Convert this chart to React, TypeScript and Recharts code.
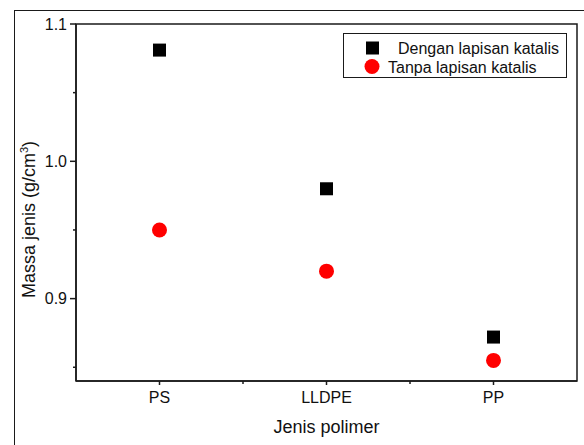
import {
  ScatterChart,
  Scatter,
  XAxis,
  YAxis,
  Legend,
  ReferenceArea,
} from "recharts";

// jenis polimer (sumbu x) dan massa jenis hasil baca dari gambar
const polimer = ["PS", "LLDPE", "PP"];
const denganKatalis = [1.081, 0.98, 0.872];
const tanpaKatalis = [0.95, 0.92, 0.855];
const yTicks = [0.85, 0.9, 0.95, 1.0, 1.05, 1.1];
const yLabels = ["0.9", "1.0", "1.1"];
const xTicks = [1, 1.5, 2, 2.5, 3];

const namaSeri = ["Dengan lapisan katalis", "Tanpa lapisan katalis"];

const dataDengan = polimer.map((p, i) => ({ x: i + 1, y: denganKatalis[i], p }));
const dataTanpa = polimer.map((p, i) => ({ x: i + 1, y: tanpaKatalis[i], p }));

const FONT = "Liberation Sans, Arial, sans-serif";
const INK = "#1a1a1a";

const Kotak = (props: any) => (
  <rect x={props.cx - 6.5} y={props.cy - 6.5} width={13} height={13} fill="#000" />
);
const Bulat = (props: any) => <circle cx={props.cx} cy={props.cy} r={7.5} fill="#ff0000" />;

const YTick = ({ x, y, payload }: any) => {
  const label = yLabels.find((l) => Math.abs(parseFloat(l) - payload.value) < 1e-6);
  return (
    <g>
      <line x1={x} x2={x - (label ? 6 : 3)} y1={y} y2={y} stroke={INK} strokeWidth={1.5} />
      {label && (
        <text x={x - 9} y={y} dy="0.36em" textAnchor="end" fontSize={16} fill="#111" fontFamily={FONT}>
          {label}
        </text>
      )}
    </g>
  );
};

const XTick = ({ x, y, payload }: any) => {
  const isMajor = Number.isInteger(payload.value);
  return (
    <g>
      <line x1={x} x2={x} y1={y} y2={y + (isMajor ? 4 : 3)} stroke={INK} strokeWidth={1.5} />
      {isMajor && (
        <text x={x} y={y + 22} textAnchor="middle" fontSize={16} fill="#111" fontFamily={FONT}>
          {polimer[payload.value - 1]}
        </text>
      )}
    </g>
  );
};

const LegendBox = () => (
  <div
    style={{
      border: `1px solid ${INK}`,
      width: 224,
      height: 45,
      boxSizing: "border-box",
      position: "relative",
    }}
  >
    <svg width={224} height={45} style={{ position: "absolute", left: 0, top: 0 }}>
      <rect x={22} y={7.5} width={13} height={13} fill="#000" />
      <circle cx={28} cy={32.5} r={7.5} fill="#ff0000" />
      <text x={54} y={19.5} fontSize={16} fontFamily={FONT} fill="#111">
        {namaSeri[0]}
      </text>
      <text x={44} y={38.5} fontSize={16} fontFamily={FONT} fill="#111">
        {namaSeri[1]}
      </text>
    </svg>
  </div>
);

export default function App() {
  return (
    <div
      style={{
        position: "fixed",
        left: 0,
        top: 0,
        width: 584,
        height: 445,
        background: "#fff",
        overflow: "hidden",
      }}
    >
      {/* bingkai luar yang terpotong di kanan dan bawah */}
      <div
        style={{
          position: "absolute",
          left: 14,
          top: 10,
          width: 570,
          height: 435,
          boxSizing: "border-box",
          borderLeft: `1.6px solid ${INK}`,
          borderTop: `1.6px solid ${INK}`,
        }}
      />
      <div style={{ position: "absolute", left: 0, top: 0 }}>
        <ScatterChart width={584} height={445} margin={{ top: 24, right: 7, bottom: 0, left: 0 }}>
          <XAxis
            type="number"
            dataKey="x"
            domain={[0.5, 3.5]}
            ticks={xTicks}
            interval={0}
            height={64}
            tickSize={0}
            tickMargin={0}
            tickLine={false}
            axisLine={{ stroke: INK, strokeWidth: 1.5 }}
            tick={<XTick />}
            allowDataOverflow
            label={({ viewBox }: any) => (
              <text
                x={viewBox.x + viewBox.width / 2}
                y={viewBox.y + 52}
                textAnchor="middle"
                fontSize={18}
                fill="#111"
                fontFamily={FONT}
              >
                Jenis polimer
              </text>
            )}
          />
          <YAxis
            type="number"
            dataKey="y"
            domain={[0.84, 1.1]}
            ticks={yTicks}
            interval={0}
            width={76}
            tickSize={0}
            tickMargin={0}
            tickLine={false}
            axisLine={{ stroke: INK, strokeWidth: 1.5 }}
            tick={<YTick />}
            allowDataOverflow
            label={({ viewBox }: any) => {
              const cy = viewBox.y + viewBox.height / 2 + 17;
              return (
                <text
                  x={35}
                  y={cy}
                  textAnchor="middle"
                  fontSize={18}
                  fill="#111"
                  fontFamily={FONT}
                  transform={`rotate(-90 35 ${cy})`}
                >
                  Massa jenis (g/cm
                  <tspan dy={-7} fontSize={11}>
                    3
                  </tspan>
                  <tspan dy={7}>)</tspan>
                </text>
              );
            }}
          />
          <ReferenceArea
            x1={0.5}
            x2={3.5}
            y1={0.84}
            y2={1.1}
            fill="none"
            stroke={INK}
            strokeWidth={1.5}
            ifOverflow="visible"
          />
          <Legend
            layout="horizontal"
            verticalAlign="middle"
            align="center"
            content={() => <LegendBox />}
            wrapperStyle={{ top: 33, left: 343, width: 224, height: 45 }}
          />
          <Scatter
            name={namaSeri[0]}
            data={dataDengan}
            shape={Kotak}
            isAnimationActive={false}
          />
          <Scatter
            name={namaSeri[1]}
            data={dataTanpa}
            shape={Bulat}
            isAnimationActive={false}
          />
        </ScatterChart>
      </div>
    </div>
  );
}
